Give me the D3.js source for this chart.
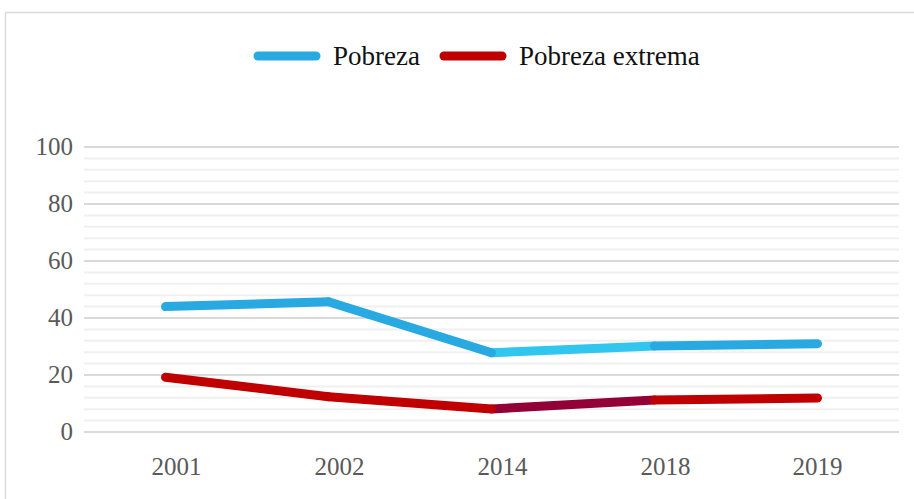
<!DOCTYPE html>
<html>
<head>
<meta charset="utf-8">
<script src="https://cdn.jsdelivr.net/npm/d3@7"></script>
<style>
  html, body { margin: 0; padding: 0; background: #fff; }
  svg { display: block; }
  svg text { font-family: "Liberation Serif", "DejaVu Serif", serif; }
</style>
</head>
<body>
<div id="chart"></div>
<script>
// Pobreza / Pobreza extrema, 2001–2019
const years = ["2001", "2002", "2014", "2018", "2019"];
const pobreza = [44.0, 45.7, 27.8, 30.2, 31.0];
const pobrezaExtrema = [19.2, 12.4, 8.1, 11.2, 11.9];
const yTicks = [0, 20, 40, 60, 80, 100];
const seriesNames = ["Pobreza", "Pobreza extrema"];

(() => {
  const W = 914, H = 499;
  const ML = 84, MR = 15, TOP = 147, BOT = 67;

  // colour per series; the 2014–2018 segment is tinted differently in the source
  const COL = [
    { main: "#29a9e1", alt: "#30c6ee" },
    { main: "#c00000", alt: "#930037" },
  ];
  const ALT_SEG = 2;

  const svg = d3.select("#chart").append("svg")
    .attr("width", W).attr("height", H);

  // frame
  svg.append("rect").attr("x", 5.5).attr("y", 12.5)
    .attr("width", W + 20).attr("height", H + 20)
    .attr("fill", "none").attr("stroke", "#dcdcdc").attr("stroke-width", 1.5);

  const x = d3.scaleBand().domain(years).range([ML, W - MR]);
  const y = d3.scaleLinear().domain([0, 100]).range([H - BOT, TOP]);

  // grid: minor every 4, major every 20
  d3.range(0, 101, 4).filter(v => v % 20 !== 0).forEach(v => {
    svg.append("line").attr("x1", ML).attr("x2", W - MR)
      .attr("y1", y(v)).attr("y2", y(v))
      .attr("stroke", "#f0f0f0").attr("stroke-width", 2);
  });
  yTicks.forEach(v => {
    svg.append("line").attr("x1", ML).attr("x2", W - MR)
      .attr("y1", y(v)).attr("y2", y(v))
      .attr("stroke", "#dadada").attr("stroke-width", 2);
    svg.append("text").attr("x", 73).attr("y", y(v) + 8)
      .attr("text-anchor", "end")
      .attr("font-family", "Liberation Serif")
      .attr("font-size", 25).attr("fill", "#595959")
      .text(v);
  });

  // category labels (the source sets the first four slightly right of centre)
  years.forEach((c, i) => {
    const cx = x(c) + x.bandwidth() / 2 + (i < years.length - 1 ? 11 : 0);
    svg.append("text").attr("x", cx).attr("y", H - 24)
      .attr("text-anchor", "middle")
      .attr("font-family", "Liberation Serif")
      .attr("font-size", 25).attr("fill", "#595959")
      .text(c);
  });

  // lines, drawn segment by segment so the tinted one sits underneath
  const cxOf = c => x(c) + x.bandwidth() / 2;
  [pobreza, pobrezaExtrema].forEach((vals, s) => {
    const segs = d3.pairs(vals.map((v, i) => ({ c: years[i], v })))
      .map((p, i) => ({ p, i }));
    segs.sort((a, b) => (b.i === ALT_SEG) - (a.i === ALT_SEG));
    segs.forEach(({ p, i }) => {
      svg.append("line")
        .attr("x1", cxOf(p[0].c)).attr("y1", y(p[0].v))
        .attr("x2", cxOf(p[1].c)).attr("y2", y(p[1].v))
        .attr("stroke", i === ALT_SEG ? COL[s].alt : COL[s].main)
        .attr("stroke-width", 9).attr("stroke-linecap", "round");
    });
  });

  // legend
  const lg = svg.append("g").attr("transform", "translate(258, 56)");
  const LX = [0, 186];
  seriesNames.forEach((n, i) => {
    lg.append("line").attr("x1", LX[i]).attr("x2", LX[i] + 58)
      .attr("y1", 0).attr("y2", 0)
      .attr("stroke", COL[i].main).attr("stroke-width", 9)
      .attr("stroke-linecap", "round");
    lg.append("text").attr("x", LX[i] + 75).attr("y", 9)
      .attr("font-family", "Liberation Serif")
      .attr("font-size", 27).attr("fill", "#111")
      .text(n);
  });
})();
</script>
</body>
</html>
